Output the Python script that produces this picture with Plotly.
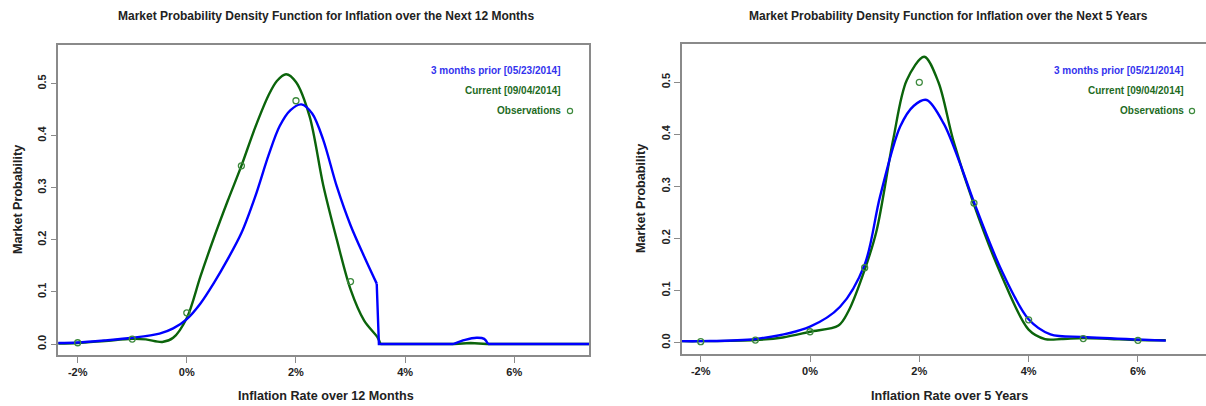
import plotly.graph_objects as go

# ---- 12-month horizon ----
m12_prior_x = [-2.36, -2.0, -1.5, -1.0, -0.5, -0.25, 0.0, 0.25, 0.5, 0.75, 1.0, 1.25, 1.5, 1.7, 1.9,
               2.1, 2.3, 2.5, 2.75, 3.0, 3.25, 3.48, 3.52, 4.88, 5.1, 5.31, 5.45, 5.52, 7.4]
m12_prior_y = [0.002, 0.003, 0.007, 0.012, 0.02, 0.03, 0.048, 0.078, 0.118, 0.163, 0.213, 0.282, 0.363,
               0.418, 0.449, 0.46, 0.442, 0.392, 0.302, 0.228, 0.168, 0.116, 0.0, 0.0, 0.008, 0.012, 0.01,
               0.0, 0.0]
m12_curr_x = [-2.36, -2.0, -1.5, -1.0, -0.75, -0.45, -0.25, 0.0, 0.25, 0.5, 0.75, 1.0, 1.25, 1.5, 1.65,
              1.82, 2.0, 2.25, 2.5, 2.75, 3.0, 3.25, 3.5, 3.55, 4.9, 5.2, 5.5, 7.4]
m12_curr_y = [0.001, 0.002, 0.006, 0.01, 0.009, 0.004, 0.012, 0.05, 0.13, 0.205, 0.275, 0.342, 0.415,
              0.478, 0.505, 0.518, 0.503, 0.437, 0.305, 0.2, 0.105, 0.045, 0.012, 0.0, 0.0, 0.002, 0.0,
              0.0]
m12_obs_x = [-2, -1, 0, 1, 2, 3]
m12_obs_y = [0.0025, 0.0096, 0.06, 0.342, 0.467, 0.12]

# ---- 5-year horizon ----
y5_prior_x = [-2.35, -2.0, -1.0, 0.0, 0.55, 1.0, 1.28, 1.65, 1.9, 2.135, 2.45, 2.745, 3.0, 3.5, 4.0,
              4.4, 5.0, 6.0, 6.51]
y5_prior_y = [0.003, 0.003, 0.007, 0.031, 0.069, 0.15, 0.28, 0.415, 0.455, 0.466, 0.42, 0.344, 0.27,
              0.14, 0.045, 0.016, 0.011, 0.006, 0.004]
y5_curr_x = [-2.35, -2.0, -1.0, -0.5, 0.0, 0.52, 0.7, 1.0, 1.22, 1.52, 1.77, 2.09, 2.35, 2.62, 3.0,
             3.5, 4.0, 4.3, 4.6, 5.0, 5.5, 6.0, 6.51]
y5_curr_y = [0.003, 0.003, 0.005, 0.01, 0.021, 0.033, 0.06, 0.14, 0.216, 0.389, 0.504, 0.549, 0.50,
             0.389, 0.265, 0.13, 0.025, 0.007, 0.007, 0.009, 0.007, 0.005, 0.0046]
y5_obs_x = [-2, -1, 0, 1, 2, 3, 4, 5, 6]
y5_obs_y = [0.002, 0.005, 0.021, 0.144, 0.5, 0.268, 0.044, 0.008, 0.0046]

x_tick_vals = [-2, 0, 2, 4, 6]
x_tick_text = ["-2%", "0%", "2%", "4%", "6%"]
y_tick_vals = [0.0, 0.1, 0.2, 0.3, 0.4, 0.5]
y_tick_text = ["0.0", "0.1", "0.2", "0.3", "0.4", "0.5"]

legend_left = ["3 months prior [05/23/2014]", "Current [09/04/2014]", "Observations"]
legend_right = ["3 months prior [05/21/2014]", "Current [09/04/2014]", "Observations"]

BLUE = "#0000FF"
GREEN = "#0B640B"
LEG_BLUE = "#3333EE"
LEG_GREEN = "#1E6B1E"
OBS = "#3E8A3E"
AXIS = "#8A8A8A"
FONT = "Liberation Sans"
W, H = 1206, 406

fig = go.Figure()


def curve(xs, ys, xa, ya, color, pieces):
    """Draw one density curve; pieces = (start, stop, shape) slices so that
    jumps in the density are drawn straight instead of smoothed."""
    for start, stop, shape in pieces:
        line = dict(color=color, width=2.4, shape=shape)
        if shape == "spline":
            line["smoothing"] = 0.9
        fig.add_trace(go.Scatter(x=xs[start:stop], y=ys[start:stop], mode="lines",
                                 xaxis=xa, yaxis=ya, line=line,
                                 showlegend=False, hoverinfo="skip"))


def observations(xs, ys, xa, ya):
    fig.add_trace(go.Scatter(x=xs, y=ys, mode="markers", xaxis=xa, yaxis=ya,
                             marker=dict(symbol="circle-open", size=6, color=OBS,
                                         line=dict(width=1.3, color=OBS)),
                             showlegend=False, hoverinfo="skip"))


n_g = len(m12_curr_x)
n_b = len(m12_prior_x)
curve(m12_curr_x, m12_curr_y, "x", "y", GREEN, [(0, 24, "spline"), (23, n_g, "linear")])
curve(m12_prior_x, m12_prior_y, "x", "y", BLUE,
      [(0, 22, "spline"), (21, 24, "linear"), (23, 28, "spline"), (27, n_b, "linear")])
observations(m12_obs_x, m12_obs_y, "x", "y")

curve(y5_curr_x, y5_curr_y, "x2", "y2", GREEN, [(0, len(y5_curr_x), "spline")])
curve(y5_prior_x, y5_prior_y, "x2", "y2", BLUE, [(0, len(y5_prior_x), "spline")])
observations(y5_obs_x, y5_obs_y, "x2", "y2")

tick_font = dict(family=FONT, size=11, color="#222222", weight="bold")
xcommon = dict(tickvals=x_tick_vals, ticktext=x_tick_text, ticks="outside", ticklen=6,
               tickcolor=AXIS, tickwidth=1.2, showline=True, linecolor=AXIS, linewidth=1.5,
               showgrid=False, zeroline=False, tickfont=tick_font, fixedrange=True)
ycommon = dict(tickvals=y_tick_vals, ticktext=y_tick_text, ticks="outside", ticklen=6,
               tickcolor=AXIS, tickwidth=1.2, showline=True, linecolor=AXIS, linewidth=1.5,
               showgrid=False, zeroline=False, tickfont=tick_font, tickangle=-90, fixedrange=True)

fig.update_layout(
    width=W, height=H,
    margin=dict(l=0, r=0, t=0, b=0),
    paper_bgcolor="white", plot_bgcolor="white",
    showlegend=False,
    xaxis=dict(domain=[58.3 / W, 589 / W], range=[-2.355, 7.37], anchor="y", mirror=True, **xcommon),
    yaxis=dict(domain=[1 - 355 / H, 1 - 45 / H], range=[-0.021, 0.574], anchor="x", mirror=True, **ycommon),
    xaxis2=dict(domain=[681.7 / W, 1.0], range=[-2.348, 7.246], anchor="y2", mirror=True, **xcommon),
    yaxis2=dict(domain=[1 - 354 / H, 1 - 44 / H], range=[-0.0217, 0.5735], anchor="x2", mirror=False, **ycommon),
)

annotations = []


def text(x, y, s, size, color="#222222", xanchor="center", angle=0):
    annotations.append(dict(x=x / W, y=1 - y / H, xref="paper", yref="paper", text=s, showarrow=False,
                            xanchor=xanchor, yanchor="middle", textangle=angle,
                            font=dict(family=FONT, size=size, color=color, weight="bold")))


# panel titles
text(326, 16, "Market Probability Density Function for Inflation over the Next 12 Months", 12)
text(948, 16, "Market Probability Density Function for Inflation over the Next 5 Years", 12)
# axis titles
text(326, 396, "Inflation Rate over 12 Months", 12.6)
text(949, 396, "Inflation Rate over 5 Years", 12.6)
text(18, 200, "Market Probability", 12.6, angle=-90)
text(641, 199, "Market Probability", 12.6, angle=-90)

# in-plot legends
shapes = []
for labels, xr, circ_x in [(legend_left, 563, 570), (legend_right, 1186, 1192)]:
    text(xr, 70, labels[0], 10, LEG_BLUE, xanchor="right")
    text(xr, 90, labels[1], 10, LEG_GREEN, xanchor="right")
    text(xr, 110, labels[2], 10, LEG_GREEN, xanchor="right")
    shapes.append(dict(type="circle", xref="paper", yref="paper", xsizemode="pixel", ysizemode="pixel",
                       xanchor=circ_x / W, yanchor=1 - 111 / H, x0=-2.6, x1=2.6, y0=-2.6, y1=2.6,
                       line=dict(color=OBS, width=1.2)))

fig.update_layout(annotations=annotations, shapes=shapes)

fig.write_html("out.html")
